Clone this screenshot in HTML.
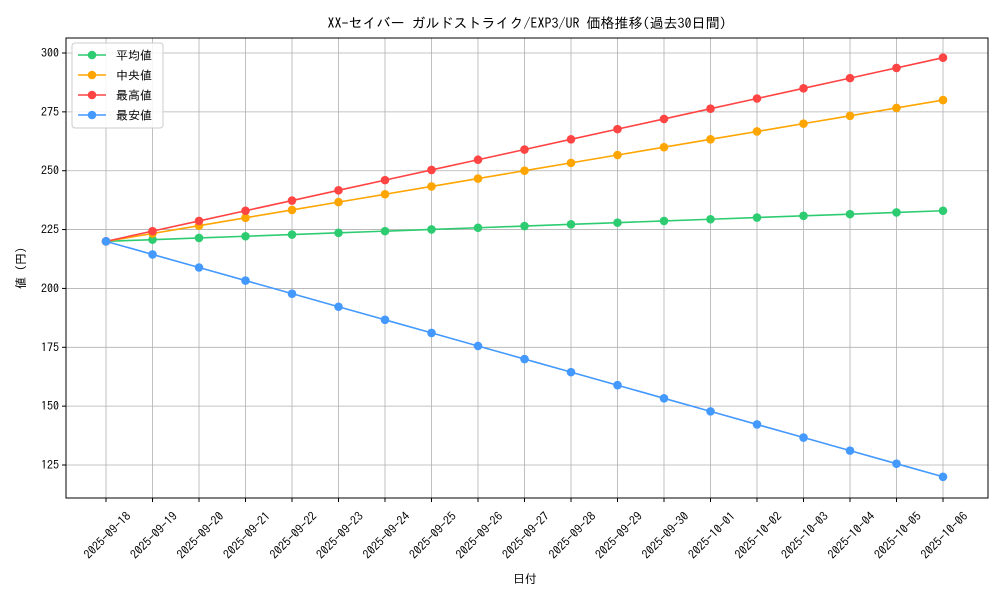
<!DOCTYPE html>
<html><head><meta charset="utf-8"><style>
body{margin:0;background:#fff}
text{font-family:"IPAGothic","Liberation Sans","Noto Sans CJK JP",sans-serif;fill:#000}
</style></head><body>
<svg id="s" width="1000" height="600" xmlns="http://www.w3.org/2000/svg"></svg>
<script>
const s=document.getElementById('s');let h='';
const L=66,R=988,T=38,B=498;
const X=i=>106+i*46.5, Y=v=>53+(300-v)*2.3543;
h+=`<rect x="0" y="0" width="1000" height="600" fill="#fff"/>`;
for(let i=0;i<19;i++){h+=`<line x1="${X(i)}" y1="${T}" x2="${X(i)}" y2="${B}" stroke="#b0b0b0" stroke-width="0.8"/>`;}
for(let v=125;v<=300;v+=25){h+=`<line x1="${L}" y1="${Y(v)}" x2="${R}" y2="${Y(v)}" stroke="#b0b0b0" stroke-width="0.8"/>`;
h+=`<line x1="${L-4}" y1="${Y(v)}" x2="${L}" y2="${Y(v)}" stroke="#000"/>`;
h+=`<text x="${L-7}" y="${Y(v)+4}" font-size="12" text-anchor="end">${v}</text>`;}
h+=`<rect x="${L}" y="${T}" width="${R-L}" height="${B-T}" fill="none" stroke="#000" stroke-width="1"/>`;
const d0=new Date(Date.UTC(2025,8,18));
for(let i=0;i<19;i++){const d=new Date(d0.getTime()+i*864e5);const t=d.toISOString().slice(0,10);
h+=`<line x1="${X(i)}" y1="${B}" x2="${X(i)}" y2="${B+4}" stroke="#000"/>`;
h+=`<text transform="translate(${X(i)+2},${B+38}) rotate(-45)" font-size="12" text-anchor="middle" dominant-baseline="middle">${t}</text>`;}
const ser=[["平均値","#2ecc71",233],["中央値","#ffa500",280],["最高値","#ff4444",298],["最安値","#4499ff",120]];
for(const [n,c,e] of ser){let p=[];for(let i=0;i<19;i++){p.push(`${X(i)},${Y(220+(e-220)*i/18)}`);}
h+=`<polyline points="${p.join(' ')}" fill="none" stroke="${c}" stroke-width="1.6"/>`;
for(const q of p){const [a,b]=q.split(',');h+=`<circle cx="${a}" cy="${b}" r="4.3" fill="${c}"/>`;}}
h+=`<rect x="72" y="43" width="91" height="85" fill="#fff" fill-opacity="0.85" stroke="#ccc" rx="3"/>`;
ser.forEach(([n,c],k)=>{const y=55+k*20;h+=`<line x1="78" y1="${y}" x2="106" y2="${y}" stroke="${c}" stroke-width="1.6"/><circle cx="92" cy="${y}" r="4.3" fill="${c}"/><text x="116" y="${y+4.5}" font-size="12">${n}</text>`;});
h+=`<text x="527" y="28" font-size="14" text-anchor="middle">XX-セイバー ガルドストライク/EXP3/UR 価格推移(過去30日間)</text>`;
h+=`<text x="525" y="583" font-size="12" text-anchor="middle">日付</text>`;
h+=`<text transform="translate(25,268) rotate(-90)" font-size="12" text-anchor="middle">値 (円)</text>`;
s.innerHTML=h;
</script>
</body></html>
